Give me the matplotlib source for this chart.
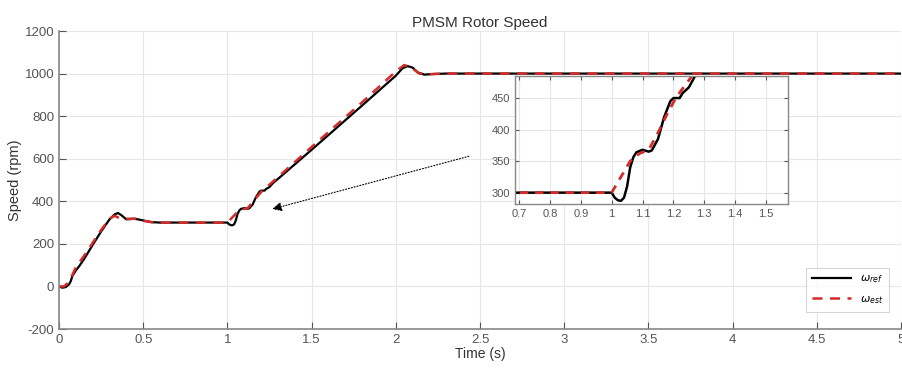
import numpy as np
import matplotlib
matplotlib.use('Agg')
import matplotlib.pyplot as plt

plt.rcParams['font.family'] = ['Liberation Sans', 'DejaVu Sans']
plt.rcParams['axes.unicode_minus'] = False

# reference speed (black)
t_ref = [0, 0.02, 0.04, 0.06, 0.07, 0.08, 0.1, 0.12, 0.15, 0.2, 0.25, 0.3, 0.33, 0.35,
         0.37, 0.4, 0.45, 0.5, 0.55, 0.6, 0.8, 1.0, 1.01, 1.02, 1.03, 1.04, 1.05, 1.06,
         1.07, 1.08, 1.1, 1.12, 1.13, 1.15, 1.17, 1.19, 1.2, 1.22, 1.23, 1.25, 1.27,
         1.3, 1.5, 1.8, 2.0, 2.04, 2.07, 2.1, 2.13, 2.17, 2.22, 2.3, 2.5, 3.0, 4.0, 5.0]
w_ref = [0, -6, -3, 10, 25, 50, 75, 95, 130, 195, 258, 315, 338, 345,
         335, 315, 318, 310, 302, 300, 300, 300, 292, 288, 287, 292, 310, 340,
         356, 364, 368, 365, 367, 385, 420, 445, 450, 450, 458, 467, 485,
         505, 642, 850, 990, 1025, 1035, 1028, 1005, 995, 998, 1000, 1000, 1000, 1000, 1000]

# estimated speed (red dashed)
t_est = [0, 0.03, 0.05, 0.08, 0.1, 0.15, 0.2, 0.25, 0.3, 0.33, 0.36, 0.4, 0.45, 0.5,
         0.55, 0.6, 1.0, 1.03, 1.06, 1.09, 1.12, 1.15, 1.18, 1.21, 1.26, 1.5, 1.8,
         2.0, 2.05, 2.09, 2.14, 2.2, 2.3, 3.0, 5.0]
w_est = [0, 0, 15, 55, 90, 145, 205, 265, 318, 332, 320, 318, 318, 308,
         302, 300, 300, 325, 350, 362, 368, 395, 425, 452, 485, 655, 865,
         1010, 1040, 1030, 1000, 997, 1000, 1000, 1000]

red = '#d42a2a'
gray = '#888888'

fig = plt.figure(figsize=(9.02, 3.69), dpi=100)
ax = fig.add_axes([59 / 902, 40 / 369, 842 / 902, 298 / 369])
ax.plot(t_ref, w_ref, color='black', lw=1.6, label=r'$\omega_{ref}$')
ax.plot(t_est, w_est, color=red, lw=1.8, ls=(0, (4, 3)), label=r'$\omega_{est}$')
ax.set_xlim(0, 5)
ax.set_ylim(-200, 1200)
ax.set_xticks(np.arange(0, 5.01, 0.5))
ax.set_xticklabels(['0', '0.5', '1', '1.5', '2', '2.5', '3', '3.5', '4', '4.5', '5'])
ax.set_yticks(np.arange(-200, 1201, 200))
ax.grid(True, color='#e6e6e6', lw=0.8)
for s in ['top', 'right']:
    ax.spines[s].set_visible(False)
for s in ['left', 'bottom']:
    ax.spines[s].set_color(gray)
    ax.spines[s].set_linewidth(1.2)
ax.tick_params(direction='in', colors='#555555', labelsize=9.5, length=5)
ax.set_xlabel('Time (s)', fontsize=10, color='#333333', labelpad=1)
ax.set_ylabel('Speed (rpm)', fontsize=10.5, color='#333333', labelpad=2)
ax.set_title('PMSM Rotor Speed', fontsize=11, color='#333333', pad=3)

leg = ax.legend(loc='lower right', fontsize=8, handlelength=3.5, frameon=True,
                fancybox=False, borderpad=0.5, labelspacing=0.8,
                bbox_to_anchor=(0.992, 0.04))
leg.get_frame().set_edgecolor('#cccccc')
leg.get_frame().set_linewidth(0.8)

ax.annotate('', xy=(1.25, 360), xytext=(2.45, 615),
            arrowprops=dict(arrowstyle='-|>', color='black', lw=0.8, ls=':',
                            mutation_scale=14))

# inset zoom
ins = fig.add_axes([515 / 902, 165 / 369, 273 / 902, 128 / 369])
ins.plot(t_ref, w_ref, color='black', lw=1.8)
ins.plot(t_est, w_est, color=red, lw=2.0, ls=(0, (3, 2.5)))
ins.set_xlim(0.687, 1.571)
ins.set_ylim(282, 485)
ins.set_xticks(np.arange(0.7, 1.51, 0.1))
ins.set_xticklabels(['0.7', '0.8', '0.9', '1', '1.1', '1.2', '1.3', '1.4', '1.5'])
ins.set_yticks([300, 350, 400, 450])
ins.grid(True, color='#e6e6e6', lw=0.8)
for s in ins.spines.values():
    s.set_color(gray)
    s.set_linewidth(1.0)
ins.tick_params(direction='in', colors='#555555', labelsize=8, length=3,
                top=True, right=True)

fig.savefig('out.png', dpi=100)
